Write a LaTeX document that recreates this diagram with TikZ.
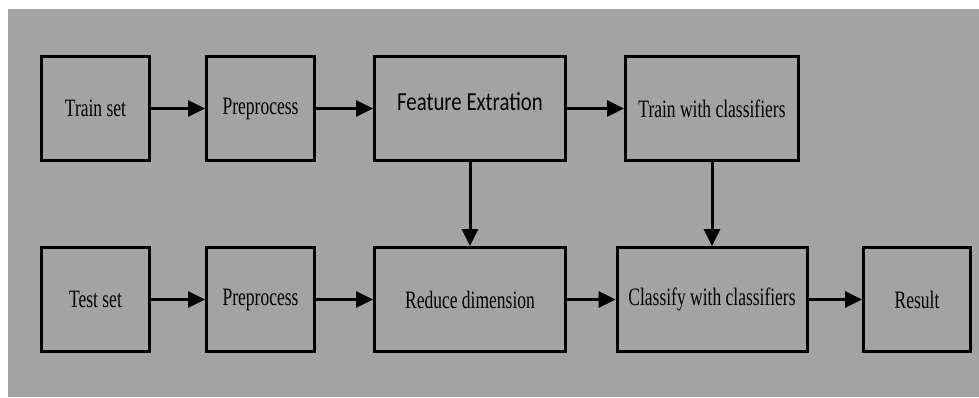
\documentclass[tikz,border=0pt]{standalone}
\usepackage{fontspec}
\usetikzlibrary{arrows.meta}
\newfontfamily\boxserif{Liberation Serif}[FakeStretch=0.7]
\newfontfamily\boxsans{Carlito}[FakeStretch=0.8]
\definecolor{panelgray}{HTML}{A3A3A3}
\tikzset{
  stage/.style={draw=black, line width=3pt, rectangle, inner sep=0pt,
    minimum height=104pt, font=\boxserif\fontsize{25}{28}\selectfont},
  flow/.style={line width=3pt, -{Triangle[length=17pt,width=16pt]}},
}
\begin{document}
\begin{tikzpicture}[x=1pt, y=-1pt]
  \useasboundingbox (0,0) rectangle (979,397);
  \fill[white] (0,0) rectangle (979,397);
  \fill[panelgray] (8,9) rectangle (979,397);

  % upper row: training path
  \node[stage, minimum width=108pt] (train) at (95.5,108.5) {Train set};
  \node[stage, minimum width=108pt] (pre1) at (260.5,108.5) {Preprocess};
  \node[stage, minimum width=191pt] (feat) at (470,108.5) {};
  \node[font=\boxsans\fontsize{26}{29}\selectfont] (featlbl) at (470,102) {Feature Extration};
  \node[stage, minimum width=173pt] (twc) at (712,108.5) {Train with classifiers};

  % lower row: testing path
  \node[stage, minimum width=108pt] (test) at (95.5,299.5) {Test set};
  \node[stage, minimum width=108pt] (pre2) at (260.5,299.5) {Preprocess};
  \node[stage, minimum width=191pt] (red) at (470,299.5) {Reduce dimension};
  \node[stage, minimum width=190pt] (cls) at (712,299.5) {Classify with classifiers};
  \node[stage, minimum width=107pt] (res) at (917,299.5) {Result};

  % connectors
  \draw[flow] (train) -- (pre1);
  \draw[flow] (pre1) -- (feat);
  \draw[flow] (feat) -- (twc);
  \draw[flow] (test) -- (pre2);
  \draw[flow] (pre2) -- (red);
  \draw[flow] (red) -- (cls);
  \draw[flow] (cls) -- (res);
  \draw[flow] (feat.south) -- (red.north);
  \draw[flow] (twc.south) -- (cls.north);
\end{tikzpicture}
\end{document}
